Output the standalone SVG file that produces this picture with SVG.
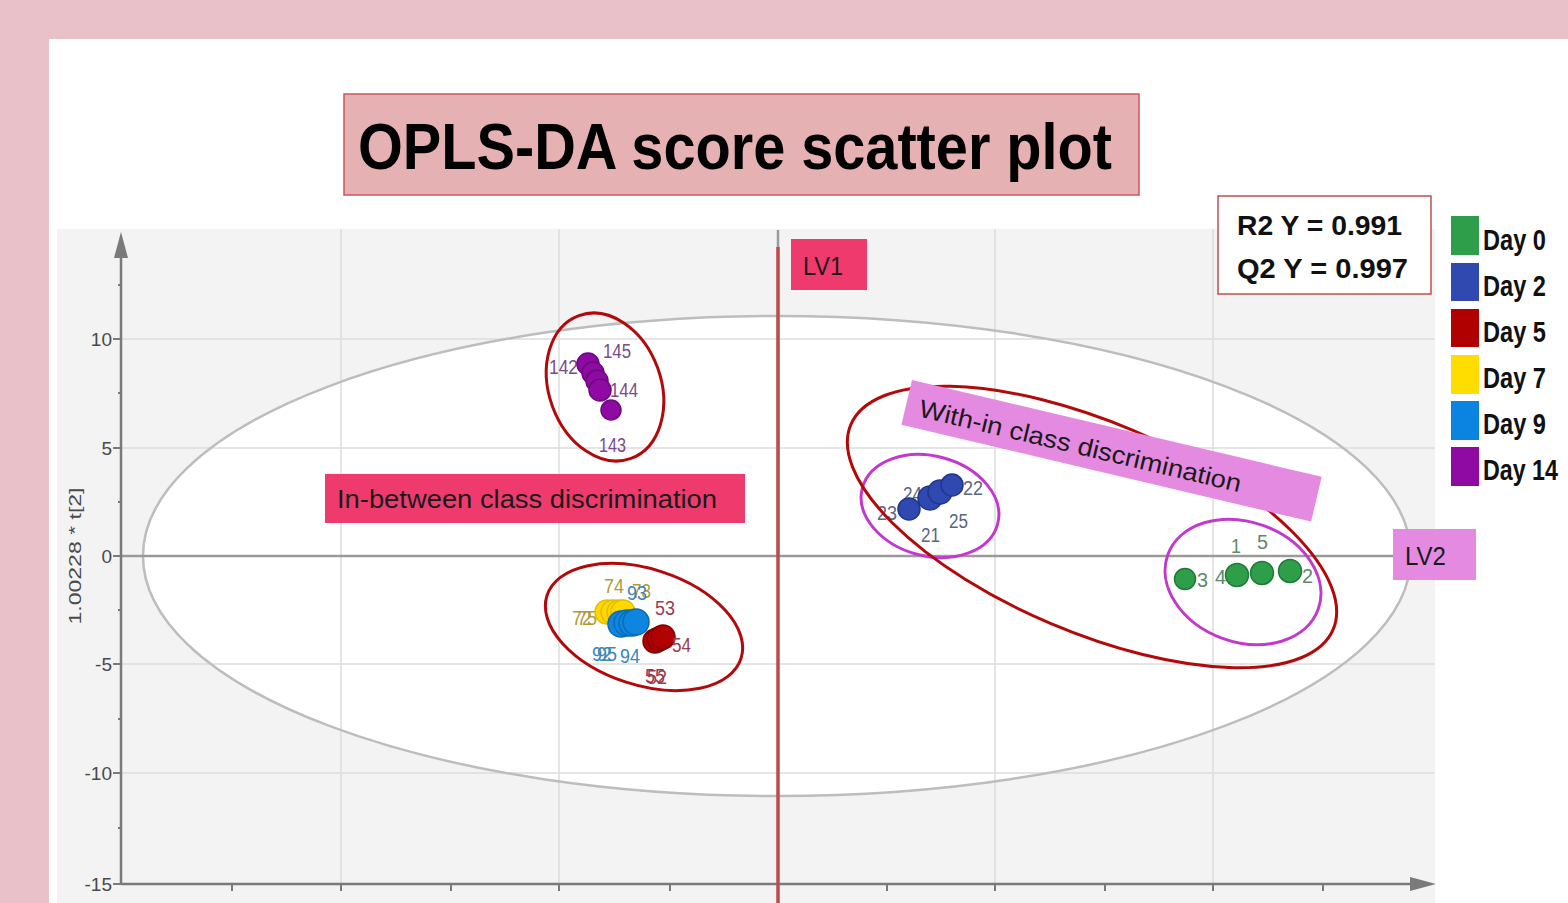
<svg xmlns="http://www.w3.org/2000/svg" width="1568" height="903" viewBox="0 0 1568 903">
<defs>
<style>
.grid{stroke:#DCDCDC;stroke-width:1.5;fill:none}
.axis{stroke:#7A7A7A;stroke-width:2.5;fill:none}
.tick{stroke:#7A7A7A;stroke-width:2}
.ytl{font-family:"Liberation Sans",Arial,sans-serif;font-size:19px;fill:#4A4A4A;text-anchor:end}
.lbl{font-family:"Liberation Sans",Arial,sans-serif;font-size:20px}
.box{font-family:"Liberation Sans",Arial,sans-serif;font-size:25px;fill:#1a1a1a}
.leg{font-family:"Liberation Sans",Arial,sans-serif;font-size:25px;font-weight:bold;fill:#111}
.stat{font-family:"Liberation Sans",Arial,sans-serif;font-size:28px;font-weight:bold;fill:#111}
.redring{fill:none;stroke:#B20A0A;stroke-width:3}
.magring{fill:none;stroke:#C23ACB;stroke-width:3}
.d0{fill:#2E9E4A;stroke:#1E7A36;stroke-width:1.5}
.d2{fill:#2F49B0;stroke:#22368A;stroke-width:1.5}
.d5{fill:#B00000;stroke:#850000;stroke-width:1.5}
.d7{fill:#FFD800;stroke:#E3BC00;stroke-width:1.5}
.d9{fill:#0E86E0;stroke:#0B6AB5;stroke-width:1.5}
.d14{fill:#8E0AA2;stroke:#6E0880;stroke-width:1.5}
</style>
</defs>
<rect x="0" y="0" width="1568" height="903" fill="#E9C1C9"/>
<rect x="49" y="39" width="1519" height="864" fill="#FFFFFF"/>
<g id="plot-area">
<rect x="57" y="229" width="1378" height="674" fill="#F3F3F3"/>
<ellipse cx="777" cy="556" rx="634" ry="240" fill="#FFFFFF"/>
<g class="grid">
<line x1="121" y1="339" x2="1435" y2="339"/>
<line x1="121" y1="448" x2="1435" y2="448"/>
<line x1="121" y1="664" x2="1435" y2="664"/>
<line x1="121" y1="773" x2="1435" y2="773"/>
<line x1="341" y1="229" x2="341" y2="884"/>
<line x1="559" y1="229" x2="559" y2="884"/>
<line x1="995" y1="229" x2="995" y2="884"/>
<line x1="1213" y1="229" x2="1213" y2="884"/>
</g>
<ellipse cx="777" cy="556" rx="634" ry="240" fill="none" stroke="#BDBDBD" stroke-width="2.5"/>
<line x1="121" y1="556" x2="1435" y2="556" stroke="#9A9A9A" stroke-width="2.5"/>
<line x1="778" y1="230" x2="778" y2="556" stroke="#9A9A9A" stroke-width="2.5"/>
</g>
<g id="axes">
<line class="axis" x1="121" y1="884" x2="121" y2="255"/>
<polygon points="114,258 128,258 121,232" fill="#7A7A7A"/>
<line class="axis" x1="121" y1="884" x2="1412" y2="884"/>
<polygon points="1410,877 1410,891 1436,884" fill="#7A7A7A"/>
<g class="tick">
<line x1="113" y1="339" x2="121" y2="339"/><line x1="113" y1="448" x2="121" y2="448"/><line x1="113" y1="556" x2="121" y2="556"/><line x1="113" y1="664" x2="121" y2="664"/><line x1="113" y1="773" x2="121" y2="773"/><line x1="113" y1="884" x2="121" y2="884"/>
<line x1="118" y1="285" x2="121" y2="285"/><line x1="118" y1="393" x2="121" y2="393"/><line x1="118" y1="502" x2="121" y2="502"/><line x1="118" y1="610" x2="121" y2="610"/><line x1="118" y1="719" x2="121" y2="719"/><line x1="118" y1="828" x2="121" y2="828"/>
<line x1="232" y1="884" x2="232" y2="891"/><line x1="341" y1="884" x2="341" y2="891"/><line x1="451" y1="884" x2="451" y2="891"/><line x1="559" y1="884" x2="559" y2="891"/><line x1="670" y1="884" x2="670" y2="891"/><line x1="887" y1="884" x2="887" y2="891"/><line x1="995" y1="884" x2="995" y2="891"/><line x1="1105" y1="884" x2="1105" y2="891"/><line x1="1213" y1="884" x2="1213" y2="891"/><line x1="1323" y1="884" x2="1323" y2="891"/>
</g>
<text class="ytl" x="112" y="346">10</text>
<text class="ytl" x="112" y="455">5</text>
<text class="ytl" x="112" y="563">0</text>
<text class="ytl" x="112" y="671">-5</text>
<text class="ytl" x="112" y="780">-10</text>
<text class="ytl" x="112" y="891">-15</text>
<text x="0" y="0" transform="translate(81,556) rotate(-90)" font-family="Liberation Sans,Arial,sans-serif" font-size="17" fill="#4A4A4A" text-anchor="middle" textLength="137" lengthAdjust="spacingAndGlyphs">1.00228 * t[2]</text>
</g>
<g id="lv1-line"><line x1="778" y1="247" x2="778" y2="903" stroke="#BD4B4B" stroke-width="3.5"/></g>
<g id="title">
<rect x="344" y="94" width="795" height="101" fill="#E6B1B3" stroke="#C8585E" stroke-width="1.5"/>
<text x="358" y="169" font-family="Liberation Sans,Arial,sans-serif" font-size="64" font-weight="bold" fill="#000" textLength="754" lengthAdjust="spacingAndGlyphs">OPLS-DA score scatter plot</text>
</g>
<g id="stats">
<rect x="1218" y="196" width="213" height="98" fill="#FFFFFF" stroke="#C0504D" stroke-width="1.5"/>
<text class="stat" x="1237" y="235" textLength="165" lengthAdjust="spacingAndGlyphs">R2 Y = 0.991</text>
<text class="stat" x="1237" y="278" textLength="171" lengthAdjust="spacingAndGlyphs">Q2 Y = 0.997</text>
</g>
<g id="legend">
<rect x="1451" y="216" width="28" height="39" fill="#2E9E4A"/>
<rect x="1451" y="263" width="28" height="38" fill="#2F49B0"/>
<rect x="1451" y="309" width="28" height="38" fill="#B00000"/>
<rect x="1451" y="355" width="28" height="39" fill="#FFDD00"/>
<rect x="1451" y="401" width="28" height="39" fill="#0A84E0"/>
<rect x="1451" y="447" width="28" height="39" fill="#8E0AA2"/>
<g transform="scale(1,1.2)">
<text class="leg" x="1483" y="208.3" textLength="63" lengthAdjust="spacingAndGlyphs">Day 0</text>
<text class="leg" x="1483" y="246.7" textLength="63" lengthAdjust="spacingAndGlyphs">Day 2</text>
<text class="leg" x="1483" y="285" textLength="63" lengthAdjust="spacingAndGlyphs">Day 5</text>
<text class="leg" x="1483" y="323.3" textLength="63" lengthAdjust="spacingAndGlyphs">Day 7</text>
<text class="leg" x="1483" y="361.7" textLength="63" lengthAdjust="spacingAndGlyphs">Day 9</text>
<text class="leg" x="1483" y="400" textLength="75" lengthAdjust="spacingAndGlyphs">Day 14</text>
</g>
</g>
<g id="cluster-day14">
<ellipse class="redring" cx="605" cy="387" rx="56" ry="76" transform="rotate(-20 605 387)"/>
<g class="lbl" fill="#7A4A8A">
<text x="549" y="374" textLength="29" lengthAdjust="spacingAndGlyphs">142</text>
<text x="603" y="358" textLength="28" lengthAdjust="spacingAndGlyphs">145</text>
<text x="610" y="397" textLength="28" lengthAdjust="spacingAndGlyphs">144</text>
<text x="599" y="452" textLength="27" lengthAdjust="spacingAndGlyphs">143</text>
</g>
<circle class="d14" cx="588" cy="364" r="11"/>
<circle class="d14" cx="593" cy="373" r="11"/>
<circle class="d14" cx="597" cy="381" r="11"/>
<circle class="d14" cx="600" cy="390" r="11"/>
<circle class="d14" cx="611" cy="410" r="10"/>
</g>
<g id="cluster-day5-7-9">
<ellipse class="redring" cx="644" cy="627" rx="102" ry="58" transform="rotate(18 644 627)"/>
<g class="lbl">
<text x="604" y="593" fill="#B09A3C" textLength="20" lengthAdjust="spacingAndGlyphs">74</text>
<text x="632" y="598" fill="#B09A3C" textLength="19" lengthAdjust="spacingAndGlyphs">73</text>
<text x="627" y="600" fill="#3C86B8" textLength="20" lengthAdjust="spacingAndGlyphs">93</text>
<text x="655" y="615" fill="#9A3C50" textLength="20" lengthAdjust="spacingAndGlyphs">53</text>
<text x="572" y="625" fill="#B09A3C" textLength="20" lengthAdjust="spacingAndGlyphs">72</text>
<text x="577" y="625" fill="#B09A3C" textLength="20" lengthAdjust="spacingAndGlyphs">75</text>
<text x="592" y="661" fill="#3C86B8" textLength="20" lengthAdjust="spacingAndGlyphs">92</text>
<text x="597" y="661" fill="#3C86B8" textLength="20" lengthAdjust="spacingAndGlyphs">95</text>
<text x="620" y="663" fill="#3C86B8" textLength="20" lengthAdjust="spacingAndGlyphs">94</text>
<text x="645" y="683" fill="#9A3C50" textLength="20" lengthAdjust="spacingAndGlyphs">55</text>
<text x="647" y="684" fill="#9A3C50" textLength="20" lengthAdjust="spacingAndGlyphs">52</text>
</g>
<circle class="d7" cx="607" cy="612" r="12"/>
<circle class="d7" cx="613" cy="612" r="12"/>
<circle class="d7" cx="619" cy="612" r="12"/>
<circle class="d7" cx="623" cy="612" r="12"/>
<circle class="d9" cx="621" cy="624" r="13"/>
<circle class="d9" cx="627" cy="623" r="13"/>
<circle class="d9" cx="632" cy="623" r="13"/>
<circle class="d9" cx="636" cy="622" r="13"/>
<circle class="d5" cx="655" cy="641" r="12"/>
<circle class="d5" cx="659" cy="639" r="12"/>
<circle class="d5" cx="663" cy="637" r="12"/>
<g class="lbl" fill="#9A3C50"><text x="672" y="652" textLength="19" lengthAdjust="spacingAndGlyphs">54</text></g>
</g>
<g id="cluster-day2">
<ellipse class="magring" cx="930" cy="506" rx="70" ry="50" transform="rotate(15 930 506)"/>
<g class="lbl" fill="#5B6585">
<text x="903" y="501" textLength="19" lengthAdjust="spacingAndGlyphs">24</text>
<text x="877" y="520" textLength="20" lengthAdjust="spacingAndGlyphs">23</text>
<text x="963" y="495" textLength="20" lengthAdjust="spacingAndGlyphs">22</text>
<text x="949" y="528" textLength="19" lengthAdjust="spacingAndGlyphs">25</text>
<text x="921" y="542" textLength="19" lengthAdjust="spacingAndGlyphs">21</text>
</g>
<circle class="d2" cx="909" cy="509" r="11"/>
<circle class="d2" cx="930" cy="498" r="12"/>
<circle class="d2" cx="940" cy="492" r="12"/>
<circle class="d2" cx="952" cy="485" r="11"/>
</g>
<g id="cluster-day0">
<ellipse class="magring" cx="1243" cy="582" rx="80" ry="60" transform="rotate(20 1243 582)"/>
<g class="lbl" fill="#5B8A6A">
<text x="1197" y="587" textLength="11" lengthAdjust="spacingAndGlyphs">3</text>
<text x="1215" y="584" textLength="11" lengthAdjust="spacingAndGlyphs">4</text>
<text x="1231" y="553" textLength="10" lengthAdjust="spacingAndGlyphs">1</text>
<text x="1257" y="549" textLength="11" lengthAdjust="spacingAndGlyphs">5</text>
<text x="1302" y="583" textLength="11" lengthAdjust="spacingAndGlyphs">2</text>
</g>
<circle class="d0" cx="1185" cy="579" r="10.5"/>
<circle class="d0" cx="1237" cy="575" r="11.5"/>
<circle class="d0" cx="1262" cy="573" r="11.5"/>
<circle class="d0" cx="1290" cy="571" r="11.5"/>
</g>
<g id="within-ring"><ellipse class="redring" cx="1092" cy="527" rx="262" ry="105" transform="rotate(23 1092 527)"/></g>
<g id="lv1-label">
<rect x="791" y="239" width="76" height="51" fill="#EF3A6E"/>
<text class="box" x="803" y="275" textLength="40" lengthAdjust="spacingAndGlyphs">LV1</text>
</g>
<g id="lv2-label">
<rect x="1393" y="529" width="83" height="51" fill="#E58AE1"/>
<text class="box" x="1405" y="565" textLength="41" lengthAdjust="spacingAndGlyphs">LV2</text>
</g>
<g id="inbetween-label">
<rect x="325" y="474" width="420" height="49" fill="#EF3A6E"/>
<text class="box" x="337" y="508" textLength="380" lengthAdjust="spacingAndGlyphs">In-between class discrimination</text>
</g>
<g id="within-label" transform="translate(912,380) rotate(13.3)">
<rect x="0" y="0" width="421" height="46" fill="#E58AE1"/>
<text class="box" x="14" y="34" font-size="27" textLength="330" lengthAdjust="spacingAndGlyphs">With-in class discrimination</text>
</g>
</svg>
